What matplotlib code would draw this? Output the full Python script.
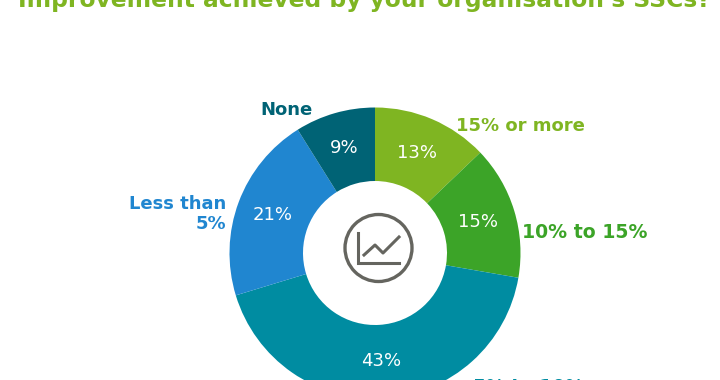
import matplotlib

matplotlib.use("Agg")
import matplotlib.pyplot as plt
from matplotlib.patches import Circle

plt.rcParams["font.family"] = ["DejaVu Sans"]

# Shares as printed on the chart, clockwise from 12 o'clock
CATEGORIES = ["15% or more", "10% to 15%", "5% to 10%", "Less than\n5%", "None"]
VALUES = [13, 15, 43, 21, 9]
LABELS = ["13%", "15%", "43%", "21%", "9%"]
COLORS = ["#7fb522", "#3ca428", "#008ca1", "#2086d0", "#006375"]

TITLE = "Improvement achieved by your organisation's SSCs?"

W, H = 720, 380
CX, CY, R_OUT, R_IN = 375, 127, 145.5, 72

fig = plt.figure(figsize=(W / 100, H / 100), dpi=100)
ax = fig.add_axes([0, 0, 1, 1])
ax.set_xlim(0, W)
ax.set_ylim(0, H)
ax.axis("off")

ax.pie(VALUES, colors=COLORS, startangle=90, counterclock=False, center=(CX, CY),
       radius=R_OUT, frame=False, wedgeprops=dict(width=R_OUT - R_IN, edgecolor="none"))
ax.set_xlim(0, W)
ax.set_ylim(0, H)
ax.set_aspect("equal")

# Percent labels inside the ring
label_pos = [(417, 227), (478, 158), (381, 19), (273, 165), (344, 232)]
for (x, y), txt in zip(label_pos, LABELS):
    ax.text(x, y, txt, color="white", fontsize=13, ha="center", va="center")

# Category labels outside the ring
cat_pos = [(456, 254, "left", 13), (522, 147, "left", 13.6), (473, 2, "left", 13.5),
           (226, 166, "right", 13), (287, 270, "center", 13)]
for (x, y, ha, fs), txt, c in zip(cat_pos, CATEGORIES, COLORS):
    ax.text(x, y, txt, color=c, fontsize=fs, fontweight="bold", ha=ha, va="top" if y < 10 else "center",
            multialignment="right", linespacing=1.15, clip_on=False)

ax.text(18, H - 1, TITLE, color="#7fb522", fontsize=16.8, fontweight="bold", ha="left", va="center")

# Chart icon in the hole
GREY = "#65655f"
ax.add_patch(Circle((378.5, 132), 33.5, fill=False, edgecolor=GREY, linewidth=2.4))
ax.plot([358, 358, 399], [147, 117, 117], color=GREY, linewidth=2.2, solid_joinstyle="miter")
ax.plot([364, 375, 383, 399], [125, 135, 127, 143], color=GREY, linewidth=2.2)

fig.savefig("out.png", dpi=100, facecolor="white")
